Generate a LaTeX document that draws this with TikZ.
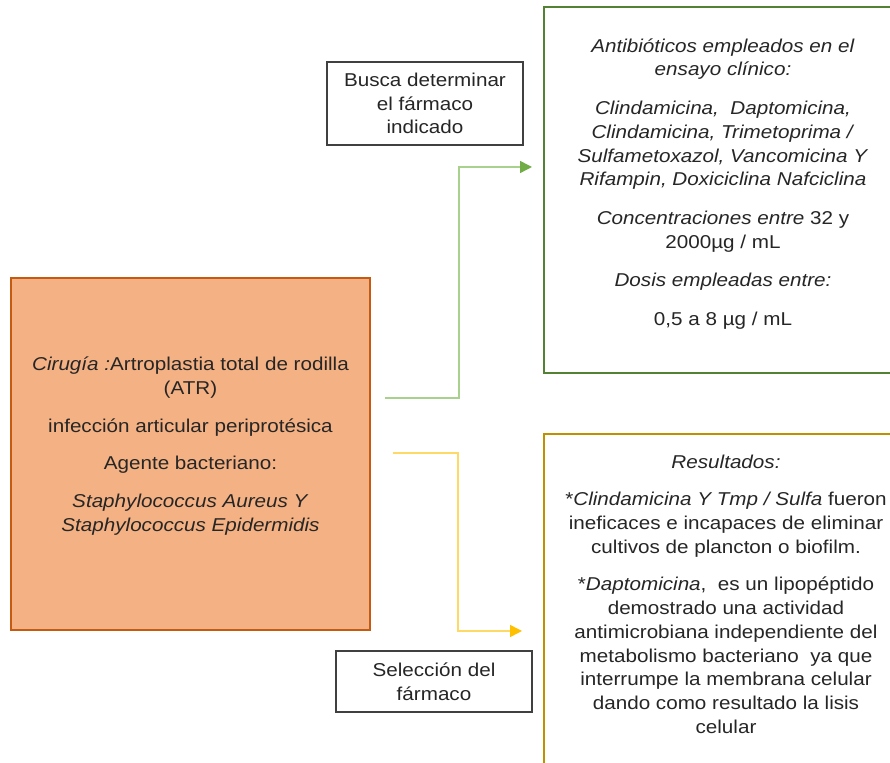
\documentclass[tikz,border=0pt]{standalone}
\usepackage{fontspec}
\setmainfont{Liberation Sans}[FakeStretch=1.11]
\usetikzlibrary{arrows.meta,positioning}

\definecolor{caseFill}{HTML}{F4B183}
\definecolor{caseLine}{HTML}{C55A11}
\definecolor{drugLine}{HTML}{548235}
\definecolor{resLine}{HTML}{BF9000}
\definecolor{gLine}{HTML}{A9D18E}
\definecolor{gTip}{HTML}{70AD47}
\definecolor{yLine}{HTML}{FFD966}
\definecolor{yTip}{HTML}{FFC000}
\definecolor{txtGray}{HTML}{262626}
\definecolor{boxGray}{HTML}{404040}

\tikzset{
    txt/.style={text=txtGray, align=center, inner sep=0pt,
                font=\fontsize{9.3}{11.85}\selectfont},
    frame/.style={rectangle, inner sep=0pt},
    notebox/.style={txt, draw=boxGray, line width=0.7pt, fill=white,
                    minimum width=98pt},
}

\begin{document}
\begin{tikzpicture}[x=0.5pt, y=-0.5pt]
    % Rahmen des Bildes
    \clip (0,0) rectangle (890,763);
    \fill[white] (0,0) rectangle (890,763);

    % Kaesten
    \node[frame, draw=caseLine, fill=caseFill, line width=1pt,
          minimum width=179.5pt, minimum height=176pt] (caso) at (190.5,454) {};
    \node[frame, draw=drugLine, line width=1pt,
          minimum width=180pt, minimum height=183pt] (farmacos) at (724,190) {};
    \node[frame, draw=resLine, line width=1pt,
          minimum width=180pt, minimum height=200pt] (resultados) at (724,634) {};

    % Texte der Kaesten
    \node[txt] (casotext) at (190.5,446)
        {\textit{Cirugía :}Artroplastia total de rodilla\\ (ATR)\\[7pt]
         infección articular periprotésica\\[7pt]
         Agente bacteriano:\\[7pt]
         \textit{Staphylococcus Aureus Y}\\ \textit{Staphylococcus Epidermidis}};
    \node[txt] (farmacostext) at (723,184)
        {\textit{Antibióticos empleados en el}\\ \textit{ensayo clínico:}\\[7.5pt]
         \textit{Clindamicina,\ \ Daptomicina,}\\ \textit{Clindamicina, Trimetoprima /}\\
         \textit{Sulfametoxazol, Vancomicina Y}\\ \textit{Rifampin, Doxiciclina Nafciclina}\\[7.5pt]
         \textit{Concentraciones entre} 32 y\\ 2000µg / mL\\[7.5pt]
         \textit{Dosis empleadas entre:}\\[7.5pt]
         0,5 a 8 µg / mL};
    \node[txt] (resultadostext) at (726,594)
        {\textit{Resultados:}\\[7pt]
         *\textit{Clindamicina Y Tmp / Sulfa} fueron\\ ineficaces e incapaces de eliminar\\
         cultivos de plancton o biofilm.\\[7pt]
         *\textit{Daptomicina},\ \ es un lipopéptido\\ demostrado una actividad\\
         antimicrobiana independiente del\\ metabolismo bacteriano\ \ ya que\\
         interrumpe la membrana celular\\ dando como resultado la lisis\\ celular};

    % Notizen
    \node[notebox, minimum height=41.5pt] (busca) at (425,103.5)
        {Busca determinar\\ el fármaco\\ indicado};
    \node[notebox, minimum height=30.5pt] (seleccion) at (434,681.5)
        {Selección del\\ fármaco};

    % Verbinder
    \coordinate (gA) at (385,398);
    \coordinate (gB) at (532,167);
    \coordinate (yA) at (393,453);
    \coordinate (yB) at (522,631);
    \foreach \von/\nach/\linie/\spitze/\dx in {gA/gB/gLine/gTip/74, yA/yB/yLine/yTip/65}
        {
            \draw[\linie, line width=0.75pt,
                  -{Triangle[length=6pt, width=6pt, color=\spitze]}]
                (\von) -- ++(\dx,0) |- (\nach);
        }
\end{tikzpicture}
\end{document}
